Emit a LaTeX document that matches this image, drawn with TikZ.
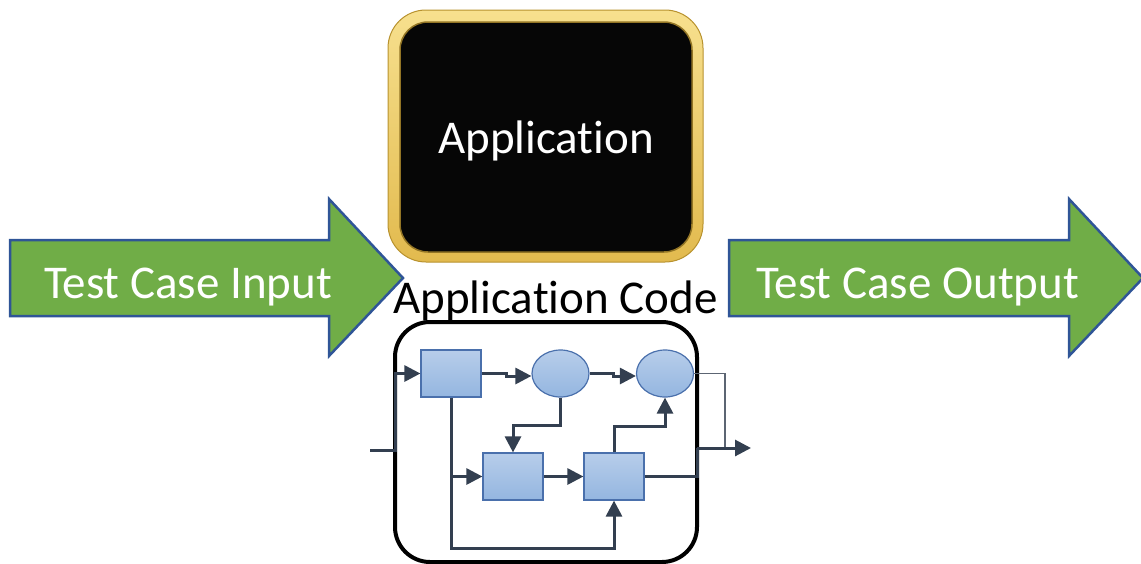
\documentclass[tikz,border=0pt]{standalone}
\usepackage{fontspec}
\setmainfont{Carlito}[Ligatures=NoCommon]
\usetikzlibrary{arrows.meta,shapes.geometric}
\definecolor{arrowgreen}{HTML}{70AD47}
\definecolor{arrowblue}{HTML}{2F5597}
\definecolor{lineclr}{HTML}{333F50}
\definecolor{blkborder}{HTML}{4A70AC}
\definecolor{blktop}{HTML}{B7CDEA}
\definecolor{blkbot}{HTML}{94B6E0}
\definecolor{goldtop}{HTML}{F7E08E}
\definecolor{goldbot}{HTML}{E2BA4E}
\definecolor{golddark}{HTML}{B8922E}
\definecolor{appblack}{HTML}{060606}
\tikzset{
  bigarrow/.style={fill=arrowgreen, draw=arrowblue, line width=2.5pt, line join=miter},
  bigtext/.style={font=\fontsize{47}{56}\selectfont, inner sep=0pt, anchor=base},
  blk/.style={rectangle, draw=blkborder, line width=1.2pt, top color=blktop, bottom color=blkbot, minimum width=60pt, minimum height=47pt, inner sep=0pt},
  ell/.style={ellipse, draw=blkborder, line width=1.2pt, top color=blktop, bottom color=blkbot, minimum width=57pt, minimum height=47pt, inner sep=0pt},
  conn/.style={draw=lineclr, line width=3pt, -{Triangle[length=16pt 0,width=16pt 0]}},
  plain/.style={draw=lineclr, line width=3pt},
  thin/.style={draw=lineclr!80, line width=1.2pt},
}
\begin{document}
\begin{tikzpicture}[x=1pt,y=-1pt]
\useasboundingbox (0,0) rectangle (1141,563);
% application box
\node[draw=golddark, line width=1pt, rounded corners=38pt, top color=goldtop, bottom color=goldbot, minimum width=315pt, minimum height=252pt, inner sep=0pt] (appouter) at (545.5,136) {};
\node[fill=appblack, draw=golddark!80!black, line width=1.5pt, rounded corners=28pt, minimum width=292pt, minimum height=230pt, inner sep=0pt] (app) at (546,137) {};
\node[bigtext, text=white] (apptext) at (546,153) {Application};
% big arrows
\draw[bigarrow] (10,240) -- (329,240) -- (329,199) -- (403,278) -- (329,356) -- (329,316) -- (10,316) -- cycle;
\node[bigtext, text=white] (intext) at (188,298) {Test Case Input};
\draw[bigarrow] (729,240) -- (1069,240) -- (1069,199) -- (1143,278) -- (1069,356) -- (1069,316) -- (729,316) -- cycle;
\node[bigtext, text=white] (outtext) at (917.5,298) {Test Case Output};
% code box
\node[bigtext, text=black] (codetitle) at (555.5,313) {Application Code};
\node[draw=black, line width=4pt, rounded corners=35pt, minimum width=302pt, minimum height=240pt, inner sep=0pt] (code) at (546,442) {};
% blocks
\node[blk] (b1) at (451,373.5) {};
\node[ell] (e1) at (560.5,373.5) {};
\node[ell] (e2) at (665,373.5) {};
\node[blk] (b2) at (513,476.5) {};
\node[blk] (b3) at (614,476.5) {};
\coordinate (in) at (370,450);
\coordinate (out) at (751,448);
% connectors
\draw[conn] (in) -- (395,450) -- (395,373.5) -- (b1.west);
\draw[conn] (b1.east) -- (506,373.5) -- (506,376) -- (e1.west |- 0,376);
\draw[conn] (e1.east) -- (613,373.5) -- (613,376) -- (e2.west |- 0,376);
\draw[conn] (e1.south) -- (560.5,425) -- (513,425) -- (b2.north);
\draw[conn] (b1.south) -- (451,548) -- (614,548) -- (b3.south);
\draw[conn] (451,476.5) -- (b2.west);
\draw[conn] (b2.east) -- (b3.west);
\draw[conn] (b3.north) -- (614,426) -- (665,426) -- (e2.south);
\draw[thin] (e2.east) -- (725,373.5) -- (725,448);
\draw[plain] (b3.east) -- (697,476.5) -- (697,448);
\draw[conn] (697,448) -- (out);
\end{tikzpicture}
\end{document}
